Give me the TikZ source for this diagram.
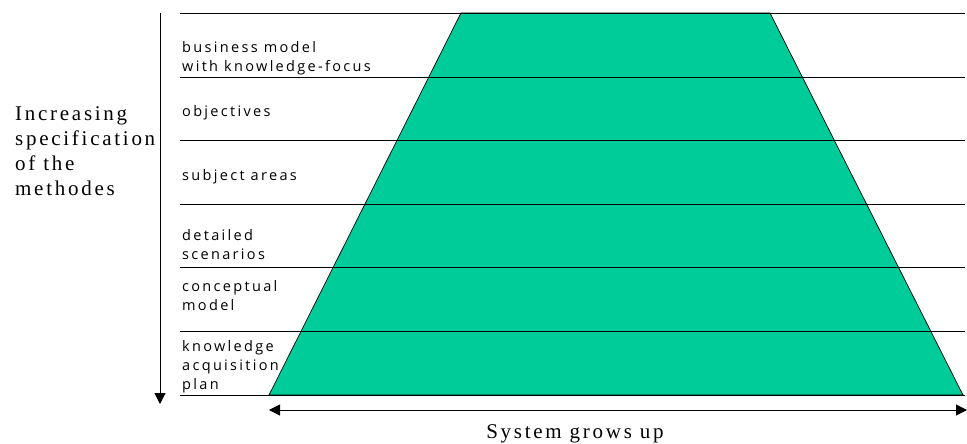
\documentclass[tikz,border=0pt]{standalone}
\usepackage{fontspec}
\usetikzlibrary{arrows.meta}
\newfontfamily\labfont{Open Sans}[LetterSpace=16]
\newfontfamily\serfont{Liberation Serif}[LetterSpace=13]
\definecolor{trapgreen}{HTML}{00CC99}
\begin{document}
\begin{tikzpicture}[x=1pt,y=-1pt,
  levelline/.style={draw=black, line width=0.9pt},
  lab/.style={anchor=base west, inner sep=0pt, align=left, font=\labfont\fontsize{14.5}{19}\selectfont},
  sertext/.style={inner sep=0pt, align=left, font=\serfont\fontsize{21}{25}\selectfont},
  bigarrow/.style={line width=1pt, -{Triangle[length=11pt,width=11pt]}},
  dblarrow/.style={line width=1pt, {Triangle[length=11pt,width=11pt]}-{Triangle[length=11pt,width=11pt]}}
]
\useasboundingbox (0,0) rectangle (967,444);
% trapezoid
\coordinate (tl) at (461,13);
\coordinate (tr) at (770,13);
\coordinate (br) at (963,395);
\coordinate (bl) at (269,395);
\filldraw[fill=trapgreen, draw=black, line width=0.7pt] (tl) -- (tr) -- (br) -- (bl) -- cycle;
% level lines
\foreach \y/\n in {13/a,77/b,140/c,204/d,267/e,331/f,395/g}{
  \coordinate (L\n) at (180,\y);
  \coordinate (R\n) at (965,\y);
  \draw[levelline] (L\n) -- (R\n);
}
% vertical arrow
\coordinate (vtop) at (160,13);
\coordinate (vbot) at (160,404);
\draw[bigarrow] (vtop) -- (vbot);
% horizontal arrow
\coordinate (hl) at (269,410);
\coordinate (hr) at (967,410);
\draw[dblarrow] (hl) -- (hr);
% labels (anchored at the baseline of the last line)
\node[lab] (l1) at (182,72) {business model\\with knowledge-focus};
\node[lab] (l2) at (182,117) {objectives};
\node[lab] (l3) at (182,180) {subject areas};
\node[lab] (l4) at (182,259) {detailed\\scenarios};
\node[lab] (l5) at (182,310) {conceptual\\model};
\node[lab] (l6) at (182,389) {knowledge\\acquisition\\plan};
\node[sertext, anchor=base west] (side) at (15,195) {Increasing\\specification\\of the\\methodes};
\node[sertext, anchor=base] (grow) at (575,438) {System grows up};
\end{tikzpicture}
\end{document}
